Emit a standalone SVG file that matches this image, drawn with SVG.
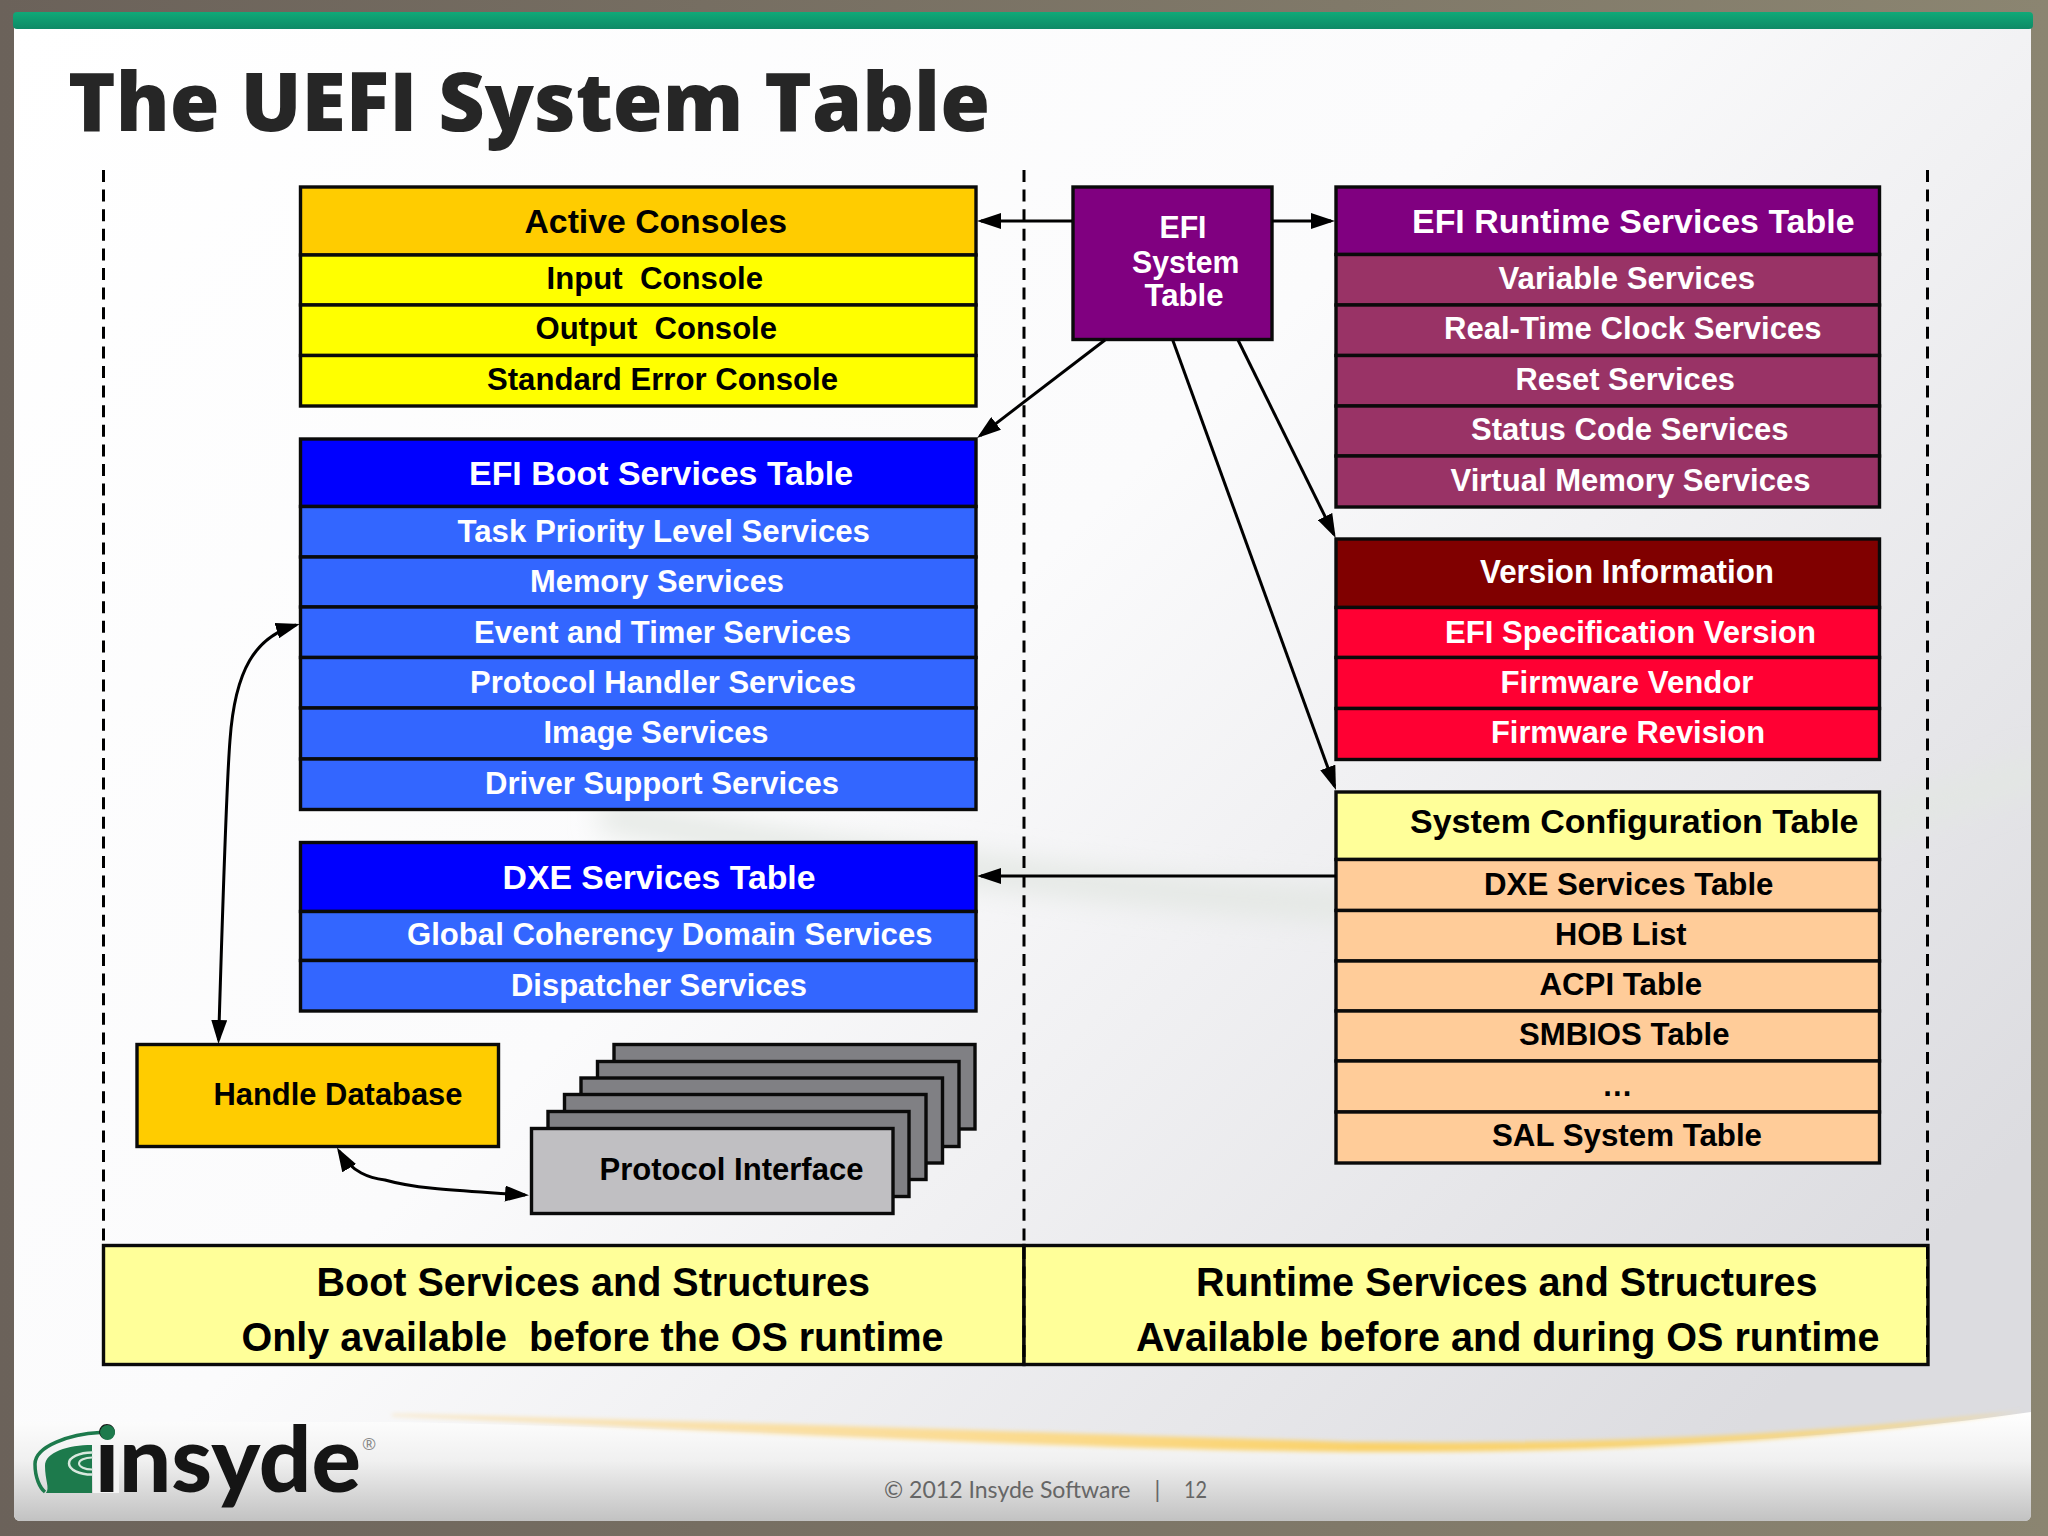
<svg xmlns="http://www.w3.org/2000/svg" width="2048" height="1536" viewBox="0 0 2048 1536">
<style>
text{font-family:"Liberation Sans",Arial,sans-serif;font-weight:700;white-space:pre}
.h{font-size:33.8px}
.r{font-size:30.7px}
.b{font-size:40px}
.w{fill:#fff}
.k{fill:#000}
.box rect{stroke:#0a0a0a;stroke-width:3.4}
.conn{fill:none;stroke:#000;stroke-width:3}
.dash{fill:none;stroke:#000;stroke-width:3;stroke-dasharray:12 7.6}
.yh{fill:#fc0}.yr{fill:#ff0}.bh{fill:#00f}.br{fill:#36f}.ph{fill:#800080}.pr{fill:#936}.dh{fill:#800000}.dr{fill:#f03}.sh{fill:#ff9}.sr{fill:#fc9}.g{fill:#808084}.f{fill:#c0bfc2}
.foot{font-family:Lato,sans-serif;font-weight:400;font-size:23px;fill:#666}
</style>
<defs>
<linearGradient id="out" x1="0" y1="0" x2="1" y2="0"><stop offset="0" stop-color="#6b625a"/><stop offset="1" stop-color="#8b8571"/></linearGradient>
<linearGradient id="bar" x1="0" y1="0" x2="0" y2="1"><stop offset="0" stop-color="#10a978"/><stop offset="1" stop-color="#0e8a66"/></linearGradient>
<linearGradient id="page" x1="0" y1="0" x2="1" y2="0.75"><stop offset="0" stop-color="#fff"/><stop offset="0.5" stop-color="#fbfbfc"/><stop offset="1" stop-color="#dcdce0"/></linearGradient>
<linearGradient id="foot" x1="0" y1="0" x2="0" y2="1"><stop offset="0" stop-color="#fff"/><stop offset="0.45" stop-color="#f0f0f0"/><stop offset="1" stop-color="#c2c2c2"/></linearGradient>
<linearGradient id="swoosh" x1="0" y1="0" x2="1" y2="0"><stop offset="0" stop-color="#f8e6c4"/><stop offset="0.35" stop-color="#fbdc94"/><stop offset="0.6" stop-color="#fad26a"/><stop offset="1" stop-color="#f6d98c"/></linearGradient>
<filter id="soft" x="-5%" y="-100%" width="110%" height="300%"><feGaussianBlur stdDeviation="14"/></filter>
<filter id="s2" x="-5%" y="-50%" width="110%" height="200%"><feGaussianBlur stdDeviation="2"/></filter>
<clipPath id="slide"><rect x="14" y="14" width="2017" height="1507" rx="6"/></clipPath>
<marker id="ah" viewBox="0 0 24 16" markerWidth="24" markerHeight="16" refX="20" refY="8" orient="auto-start-reverse" markerUnits="userSpaceOnUse"><path d="M0 0L24 8L0 16Z" fill="#000"/></marker>
</defs>
<rect width="2048" height="1536" fill="url(#out)"/>
<g clip-path="url(#slide)">
<rect x="14" y="14" width="2017" height="1507" fill="url(#page)"/>
<path d="M600 815C800 850 1100 890 1336 905C1550 915 1800 850 2040 770" fill="none" stroke="#e3e7e3" stroke-width="30" filter="url(#soft)"/>
<path d="M14 1422L392 1422C700 1428 1050 1445 1350 1448C1600 1450 1820 1442 2031 1412L2031 1521L14 1521Z" fill="url(#foot)"/>
<path d="M392 1414C700 1420 1050 1433 1350 1442C1600 1445 1820 1434 2024 1411C1820 1442 1600 1453 1350 1452C1050 1449 700 1430 392 1416Z" fill="url(#swoosh)" filter="url(#s2)"/>
</g>
<rect x="13" y="12" width="2020" height="17" rx="4" fill="url(#bar)"/>

<g id="title"><text x="68" y="131" style="font-family:'Open Sans','Noto Sans',sans-serif;font-size:81px;font-weight:800" fill="#262626" textLength="922" lengthAdjust="spacingAndGlyphs">The UEFI System Table</text></g>

<g id="dividers">
<path class="dash" d="M103.5 170V1245"/>
<path class="dash" d="M1024 170V1245"/>
<path class="dash" d="M1927.5 170V1245"/>
</g>

<g id="boot-band" class="box">
<rect class="sh" x="103.5" y="1245.5" width="920.5" height="119"/>
<text class="k" x="316.5" y="1295.7" style="font-size:40px" textLength="553.5" lengthAdjust="spacingAndGlyphs">Boot Services and Structures</text>
<text class="k" x="241.5" y="1351" style="font-size:40px" textLength="702" lengthAdjust="spacingAndGlyphs">Only available  before the OS runtime</text>
</g>
<g id="runtime-band" class="box">
<rect class="sh" x="1024" y="1245.5" width="904" height="119"/>
<text class="k" x="1196" y="1295.7" style="font-size:40px" textLength="621.5" lengthAdjust="spacingAndGlyphs">Runtime Services and Structures</text>
<text class="k" x="1136" y="1351" style="font-size:40px" textLength="743.5" lengthAdjust="spacingAndGlyphs">Available before and during OS runtime</text>
</g>

<g id="active-consoles" class="box">
<rect class="yh" x="300.5" y="187" width="675.5" height="68"/>
<rect class="yr" x="300.5" y="255" width="675.5" height="50"/>
<rect class="yr" x="300.5" y="305" width="675.5" height="50.5"/>
<rect class="yr" x="300.5" y="355.5" width="675.5" height="50.5"/>
<text class="h k" x="524.5" y="232.5" textLength="262.5" lengthAdjust="spacingAndGlyphs">Active Consoles</text>
<text class="r k" x="546.5" y="288.5" textLength="216.5" lengthAdjust="spacingAndGlyphs">Input  Console</text>
<text class="r k" x="535.5" y="338.5" textLength="241.5" lengthAdjust="spacingAndGlyphs">Output  Console</text>
<text class="r k" x="487" y="389.5" textLength="351" lengthAdjust="spacingAndGlyphs">Standard Error Console</text>
</g>

<g id="boot-services" class="box">
<rect class="bh" x="300.5" y="439" width="675.5" height="67.5"/>
<rect class="br" x="300.5" y="506.5" width="675.5" height="50.5"/>
<rect class="br" x="300.5" y="557" width="675.5" height="50"/>
<rect class="br" x="300.5" y="607" width="675.5" height="50.5"/>
<rect class="br" x="300.5" y="657.5" width="675.5" height="50.5"/>
<rect class="br" x="300.5" y="708" width="675.5" height="51"/>
<rect class="br" x="300.5" y="759" width="675.5" height="50.5"/>
<text class="h w" x="469" y="484.5" textLength="384" lengthAdjust="spacingAndGlyphs">EFI Boot Services Table</text>
<text class="r w" x="457.5" y="542" textLength="412.5" lengthAdjust="spacingAndGlyphs">Task Priority Level Services</text>
<text class="r w" x="530" y="592" textLength="254" lengthAdjust="spacingAndGlyphs">Memory Services</text>
<text class="r w" x="474" y="642.5" textLength="377" lengthAdjust="spacingAndGlyphs">Event and Timer Services</text>
<text class="r w" x="470" y="693" textLength="386" lengthAdjust="spacingAndGlyphs">Protocol Handler Services</text>
<text class="r w" x="543.5" y="743" textLength="225" lengthAdjust="spacingAndGlyphs">Image Services</text>
<text class="r w" x="485" y="793.5" textLength="354" lengthAdjust="spacingAndGlyphs">Driver Support Services</text>
</g>

<g id="dxe-services" class="box">
<rect class="bh" x="300.5" y="842.5" width="675.5" height="69"/>
<rect class="br" x="300.5" y="911.5" width="675.5" height="49"/>
<rect class="br" x="300.5" y="960.5" width="675.5" height="50.5"/>
<text class="h w" x="502.5" y="888.5" textLength="313" lengthAdjust="spacingAndGlyphs">DXE Services Table</text>
<text class="r w" x="407" y="945" textLength="525.5" lengthAdjust="spacingAndGlyphs">Global Coherency Domain Services</text>
<text class="r w" x="511" y="995.5" textLength="296" lengthAdjust="spacingAndGlyphs">Dispatcher Services</text>
</g>

<g id="handle-database" class="box">
<rect class="yh" x="137" y="1044.5" width="361.5" height="102"/>
<text class="r k" x="213.5" y="1104.5" textLength="249" lengthAdjust="spacingAndGlyphs">Handle Database</text>
</g>

<g id="protocol-interface" class="box">
<rect class="g" x="614" y="1044.5" width="361" height="84.5"/>
<rect class="g" x="597.5" y="1061.5" width="361.5" height="85"/>
<rect class="g" x="581" y="1078" width="361.5" height="85"/>
<rect class="g" x="564.5" y="1094.5" width="361.5" height="85"/>
<rect class="g" x="548" y="1111.5" width="361" height="85"/>
<rect class="f" x="531.5" y="1128.5" width="361.5" height="85"/>
<text class="r k" x="599.5" y="1180" textLength="264" lengthAdjust="spacingAndGlyphs">Protocol Interface</text>
</g>

<g id="efi-system-table" class="box">
<rect class="ph" x="1073" y="187" width="199" height="152.5"/>
<text class="r w" x="1159.5" y="237.5" textLength="47" lengthAdjust="spacingAndGlyphs">EFI</text>
<text class="r w" x="1132" y="272.5" textLength="107.5" lengthAdjust="spacingAndGlyphs">System</text>
<text class="r w" x="1144.5" y="305.5" textLength="79" lengthAdjust="spacingAndGlyphs">Table</text>
</g>

<g id="runtime-services" class="box">
<rect class="ph" x="1336" y="187" width="543.5" height="67.5"/>
<rect class="pr" x="1336" y="254.5" width="543.5" height="50.5"/>
<rect class="pr" x="1336" y="305" width="543.5" height="50.5"/>
<rect class="pr" x="1336" y="355.5" width="543.5" height="50.5"/>
<rect class="pr" x="1336" y="406" width="543.5" height="50"/>
<rect class="pr" x="1336" y="456" width="543.5" height="51"/>
<text class="h w" x="1412" y="232.5" textLength="442.5" lengthAdjust="spacingAndGlyphs">EFI Runtime Services Table</text>
<text class="r w" x="1498.5" y="288.5" textLength="256.5" lengthAdjust="spacingAndGlyphs">Variable Services</text>
<text class="r w" x="1444" y="339" textLength="377.5" lengthAdjust="spacingAndGlyphs">Real-Time Clock Services</text>
<text class="r w" x="1515.5" y="389.5" textLength="219.5" lengthAdjust="spacingAndGlyphs">Reset Services</text>
<text class="r w" x="1471" y="440" textLength="317.5" lengthAdjust="spacingAndGlyphs">Status Code Services</text>
<text class="r w" x="1450.5" y="490.5" textLength="360" lengthAdjust="spacingAndGlyphs">Virtual Memory Services</text>
</g>

<g id="version-information" class="box">
<rect class="dh" x="1336" y="539" width="543.5" height="68.5"/>
<rect class="dr" x="1336" y="607.5" width="543.5" height="50"/>
<rect class="dr" x="1336" y="657.5" width="543.5" height="51"/>
<rect class="dr" x="1336" y="708.5" width="543.5" height="51"/>
<text class="h w" x="1480" y="583" textLength="294" lengthAdjust="spacingAndGlyphs">Version Information</text>
<text class="r w" x="1445" y="642.5" textLength="371" lengthAdjust="spacingAndGlyphs">EFI Specification Version</text>
<text class="r w" x="1500.5" y="692.5" textLength="253" lengthAdjust="spacingAndGlyphs">Firmware Vendor</text>
<text class="r w" x="1491" y="742.5" textLength="274" lengthAdjust="spacingAndGlyphs">Firmware Revision</text>
</g>

<g id="system-configuration" class="box">
<rect class="sh" x="1336" y="792" width="543.5" height="67.5"/>
<rect class="sr" x="1336" y="859.5" width="543.5" height="51"/>
<rect class="sr" x="1336" y="910.5" width="543.5" height="50.5"/>
<rect class="sr" x="1336" y="961" width="543.5" height="50"/>
<rect class="sr" x="1336" y="1011" width="543.5" height="50"/>
<rect class="sr" x="1336" y="1061" width="543.5" height="51"/>
<rect class="sr" x="1336" y="1112" width="543.5" height="51"/>
<text class="h k" x="1410" y="833" textLength="448.5" lengthAdjust="spacingAndGlyphs">System Configuration Table</text>
<text class="r k" x="1484" y="894.5" textLength="289.5" lengthAdjust="spacingAndGlyphs">DXE Services Table</text>
<text class="r k" x="1555" y="944.5" textLength="131.5" lengthAdjust="spacingAndGlyphs">HOB List</text>
<text class="r k" x="1539.5" y="995" textLength="162.5" lengthAdjust="spacingAndGlyphs">ACPI Table</text>
<text class="r k" x="1519" y="1045" textLength="210.5" lengthAdjust="spacingAndGlyphs">SMBIOS Table</text>
<text class="r k" x="1602" y="1096">…</text>
<text class="r k" x="1492" y="1146" textLength="270" lengthAdjust="spacingAndGlyphs">SAL System Table</text>
</g>

<g id="band-dividers">
<path class="dash" d="M1024 1247V1364M1927.5 1247V1364"/>
</g>

<g id="connectors">
<path class="conn" marker-end="url(#ah)" d="M1072 221H981"/>
<path class="conn" marker-end="url(#ah)" d="M1272 221H1331"/>
<path class="conn" marker-end="url(#ah)" d="M1105 340L980.2 435.6"/>
<path class="conn" marker-end="url(#ah)" d="M1238 340L1333.9 534.4"/>
<path class="conn" marker-end="url(#ah)" d="M1172.7 340L1334.6 786.2"/>
<path class="conn" marker-end="url(#ah)" d="M1336 876H981"/>
<path class="conn" marker-start="url(#ah)" marker-end="url(#ah)" d="M218.6 1040C223 900 226 790 230 740C235 670 255 637 296 625"/>
<path class="conn" marker-start="url(#ah)" marker-end="url(#ah)" d="M339 1151C352 1173 370 1178 385 1180C420 1190 470 1191 525 1195"/>
</g>

<g id="logo">
<path d="M100 1432.5C70 1434 35 1446 35 1464C35 1478 40 1488 45 1492" fill="none" stroke="#1d7a4c" stroke-width="3.5"/>
<path d="M92 1445C68 1445 45 1452 45 1466C45 1480 50 1488 46 1493L92 1493Z" fill="#1d7a4c"/>
<ellipse cx="92" cy="1463.5" rx="23" ry="11" fill="none" stroke="#d8e8de" stroke-width="2.5"/>
<ellipse cx="92" cy="1463.5" rx="13" ry="6" fill="none" stroke="#d8e8de" stroke-width="2"/>
<rect x="93" y="1445" width="26" height="48" fill="#f4f4f4"/>
<text x="95" y="1491.5" style="font-family:Lato,'Open Sans',sans-serif;font-size:92px;font-weight:900" fill="#151515" textLength="266" lengthAdjust="spacingAndGlyphs">insyde</text>
<circle cx="107.5" cy="1432.5" r="7.5" fill="#1d7a4c"/>
<text x="362" y="1450" style="font-family:'Open Sans',sans-serif;font-size:17px;font-weight:400" fill="#888">®</text>
</g>

<g id="footer">
<text class="foot" x="884" y="1498" textLength="246.5" lengthAdjust="spacingAndGlyphs">© 2012 Insyde Software</text>
<text class="foot" x="1154.5" y="1498">|</text>
<text class="foot" x="1184" y="1498" textLength="23" lengthAdjust="spacingAndGlyphs">12</text>
</g>
</svg>
